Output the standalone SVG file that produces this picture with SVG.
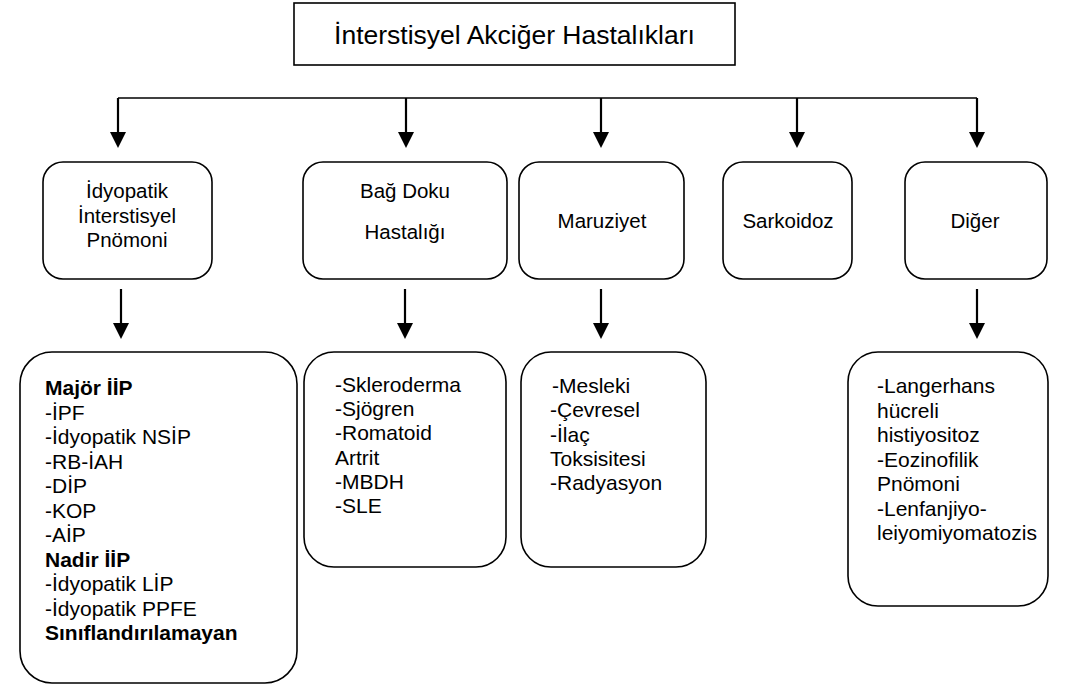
<svg xmlns="http://www.w3.org/2000/svg" width="1079" height="688" viewBox="0 0 1079 688">
<defs>
<style>
text{font-family:"Liberation Sans",Arial,sans-serif;fill:#000;font-size:21px}
.t{font-size:26.5px;text-anchor:middle}
.c{text-anchor:middle;font-size:20.5px}
.b{font-weight:bold}
.box{fill:#fff;stroke:#000;stroke-width:1.6}
.ln{fill:none;stroke:#000;stroke-width:1.5}
.st{fill:none;stroke:#000;stroke-width:2.2}
</style>
</defs>
<rect width="1079" height="688" fill="#fff"/>
<g id="connectors">
<path class="ln" d="M118,98 H977"/>
<g fill="#000">
<path d="M110,132 H126 L118,148 Z"/>
<path d="M398,132 H414 L406,148 Z"/>
<path d="M593,132 H609 L601,148 Z"/>
<path d="M789,132 H805 L797,148 Z"/>
<path d="M969,132 H985 L977,148 Z"/>
<path d="M113,323 H129 L121,339 Z"/>
<path d="M397,323 H413 L405,339 Z"/>
<path d="M593,323 H609 L601,339 Z"/>
<path d="M969,323 H985 L977,339 Z"/>
</g>
<path class="st" d="M118,98 V134 M406,98 V134 M601,98 V134 M797,98 V134 M977,98 V134"/>
<path class="st" d="M121,289 V325 M405,289 V325 M601,289 V325 M977,289 V325"/>
</g>
<g id="title">
<rect class="box" x="294" y="3" width="441" height="62"/>
<text class="t" x="514.5" y="44">İnterstisyel Akciğer Hastalıkları</text>
</g>
<g id="idyopatik">
<rect class="box" x="43" y="162" width="169" height="117" rx="20"/>
<text class="c" x="127" y="198">İdyopatik</text>
<text class="c" x="127" y="223">İnterstisyel</text>
<text class="c" x="127" y="247">Pnömoni</text>
</g>
<g id="bagdoku">
<rect class="box" x="303" y="162" width="204" height="117" rx="20"/>
<text class="c" x="405" y="198">Bağ Doku</text>
<text class="c" x="405" y="239">Hastalığı</text>
</g>
<g id="maruziyet">
<rect class="box" x="519" y="162" width="165" height="117" rx="20"/>
<text class="c" x="602" y="228">Maruziyet</text>
</g>
<g id="sarkoidoz">
<rect class="box" x="723" y="162" width="129" height="117" rx="20"/>
<text class="c" x="788" y="228">Sarkoidoz</text>
</g>
<g id="diger">
<rect class="box" x="905" y="162" width="142" height="117" rx="20"/>
<text class="c" x="975" y="228">Diğer</text>
</g>
<g id="iip-list">
<rect class="box" x="20" y="352" width="277" height="331" rx="32"/>
<text x="45" y="395" class="b">Majör İİP</text>
<text x="45" y="419.5">-İPF</text>
<text x="45" y="444">-İdyopatik NSİP</text>
<text x="45" y="468.5">-RB-İAH</text>
<text x="45" y="493">-DİP</text>
<text x="45" y="517.5">-KOP</text>
<text x="45" y="542">-AİP</text>
<text x="45" y="566.5" class="b">Nadir İİP</text>
<text x="45" y="591">-İdyopatik LİP</text>
<text x="45" y="615.5">-İdyopatik PPFE</text>
<text x="45" y="640" class="b">Sınıflandırılamayan</text>
</g>
<g id="bagdoku-list">
<rect class="box" x="304" y="352" width="202" height="215" rx="30"/>
<text x="335" y="392">-Skleroderma</text>
<text x="335" y="416.2">-Sjögren</text>
<text x="335" y="440.4">-Romatoid</text>
<text x="335" y="464.6">Artrit</text>
<text x="335" y="488.8">-MBDH</text>
<text x="335" y="513">-SLE</text>
</g>
<g id="maruziyet-list">
<rect class="box" x="521" y="352" width="185" height="215" rx="30"/>
<text x="552" y="393">-Mesleki</text>
<text x="550" y="417.3">-Çevresel</text>
<text x="550" y="441.6">-İlaç</text>
<text x="550" y="465.9">Toksisitesi</text>
<text x="550" y="490.2">-Radyasyon</text>
</g>
<g id="diger-list">
<rect class="box" x="848" y="352" width="200" height="254" rx="30"/>
<text x="877" y="393">-Langerhans</text>
<text x="877" y="417.5">hücreli</text>
<text x="877" y="442">histiyositoz</text>
<text x="877" y="466.5">-Eozinofilik</text>
<text x="877" y="491">Pnömoni</text>
<text x="877" y="515.5">-Lenfanjiyo-</text>
<text x="877" y="540">leiyomiyomatozis</text>
</g>
</svg>
